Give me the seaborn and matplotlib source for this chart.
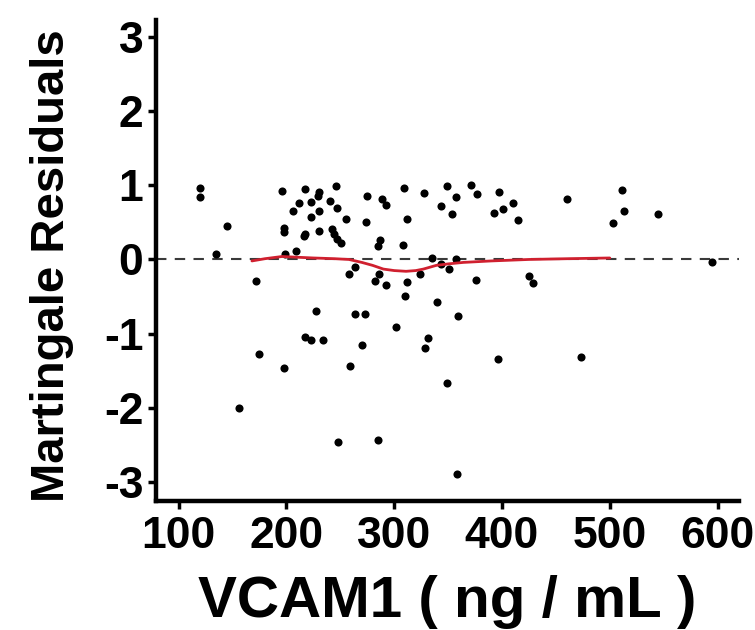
import matplotlib
matplotlib.use("Agg")
import matplotlib.pyplot as plt
import seaborn as sns
import pandas as pd

# ---- data ----
vcam1 = [120, 120, 145, 135, 172, 196, 217, 212, 206, 198, 198, 216, 209, 199,
         230, 246, 223, 229, 240, 247, 230, 223, 255, 217, 230, 242, 244, 247, 251,
         275, 289, 292, 274, 287, 285, 309, 328, 312, 308, 349, 357, 343, 354,
         335, 343, 351, 357, 264, 258, 286, 282, 292, 312, 324, 371, 377, 397,
         410, 401, 393, 415, 460, 511, 513, 503, 545, 595, 376, 425, 429,
         217, 175, 198, 156, 310, 340, 359, 227, 264, 273, 302, 223, 234, 270,
         331, 329, 259, 396, 349, 248, 285, 358, 473]
residuals = [0.97, 0.84, 0.45, 0.08, -0.29, 0.92, 0.95, 0.76, 0.66, 0.42, 0.37, 0.32, 0.12, 0.07,
             0.91, 0.99, 0.77, 0.86, 0.79, 0.70, 0.65, 0.57, 0.54, 0.35, 0.39, 0.41, 0.35, 0.28, 0.22,
             0.86, 0.81, 0.73, 0.50, 0.26, 0.18, 0.96, 0.90, 0.54, 0.19, 0.99, 0.84, 0.72, 0.62,
             0.02, -0.06, -0.13, 0.00, -0.10, -0.19, -0.19, -0.29, -0.35, -0.31, -0.19, 1.01, 0.88, 0.91,
             0.76, 0.68, 0.63, 0.53, 0.82, 0.94, 0.65, 0.49, 0.61, -0.04, -0.28, -0.22, -0.32,
             -1.05, -1.27, -1.46, -2.00, -0.49, -0.57, -0.76, -0.69, -0.74, -0.74, -0.91, -1.09, -1.09, -1.16,
             -1.06, -1.20, -1.44, -1.34, -1.67, -2.46, -2.44, -2.90, -1.32]

smooth_x = [168, 180, 196, 210, 225, 245, 258, 270, 280, 290, 300, 311, 320, 327,
            339, 350, 364, 390, 425, 460, 500]
smooth_y = [-0.02, 0.01, 0.04, 0.03, 0.02, 0.01, 0.00, -0.04, -0.08, -0.13, -0.15, -0.16, -0.15, -0.13,
            -0.08, -0.06, -0.04, -0.02, 0.00, 0.01, 0.02]

x_ticks = [100, 200, 300, 400, 500, 600]
y_ticks = [-3, -2, -1, 0, 1, 2, 3]
x_label = "VCAM1 ( ng / mL )"
y_label = "Martingale Residuals"

pts = pd.DataFrame({"x": vcam1, "y": residuals})
smooth = pd.DataFrame({"x": smooth_x, "y": smooth_y})

sns.set_theme(style="ticks")
plt.rcParams["font.family"] = ["Liberation Sans", "DejaVu Sans"]
plt.rcParams["font.weight"] = "bold"

fig = plt.figure(figsize=(7.55, 6.30), dpi=100)
ax = fig.add_axes([0.2066, 0.2048, 0.979 - 0.2066, 0.968 - 0.2048])

ax.axhline(0, color="#3a3a3a", linestyle=(0, (5, 4)), linewidth=1.5, zorder=1)
sns.scatterplot(data=pts, x="x", y="y", ax=ax, color="black", s=34,
                edgecolor="black", linewidth=0, zorder=3)
sns.lineplot(data=smooth, x="x", y="y", ax=ax, color="#d0202f", linewidth=2.0,
             sort=True, estimator=None, zorder=4)

ax.set_xlim(79, 620)
ax.set_ylim(-3.26, 3.23)
ax.set_xticks(x_ticks)
ax.set_yticks(y_ticks)
ax.set_xticklabels([str(v) for v in x_ticks])
ax.set_yticklabels([str(v) for v in y_ticks])

sns.despine(ax=ax)
for side in ["left", "bottom"]:
    ax.spines[side].set_linewidth(3.2)
    ax.spines[side].set_color("black")
ax.tick_params(axis="both", direction="out", length=6, width=2.5, color="black",
               labelsize=32, labelcolor="black")
ax.tick_params(axis="x", pad=4.5)
ax.tick_params(axis="y", pad=3)
for lbl in ax.get_xticklabels() + ax.get_yticklabels():
    lbl.set_fontweight("bold")

ax.set_xlabel(x_label, fontsize=42, fontweight="bold", color="black")
ax.set_ylabel(y_label, fontsize=34, fontweight="bold", color="black")
ax.xaxis.set_label_coords(0.5, -0.153)
ax.yaxis.set_label_coords(-0.14, 0.49)

fig.savefig("out.png", dpi=100, facecolor="white")
